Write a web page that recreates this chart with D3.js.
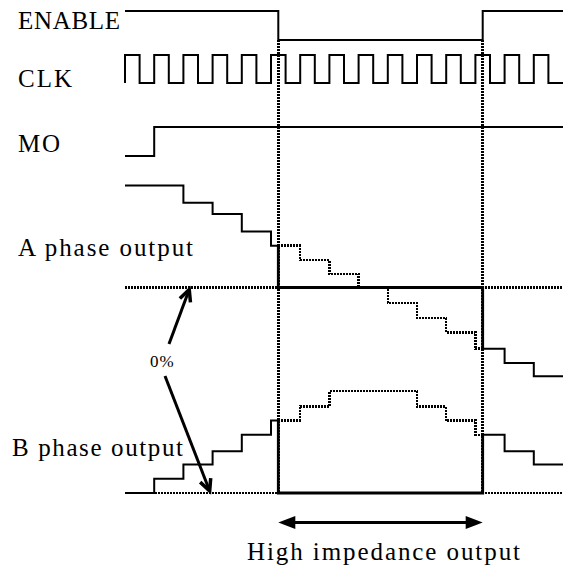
<!DOCTYPE html>
<html>
<head>
<meta charset="utf-8">
<script src="https://cdn.jsdelivr.net/npm/d3@7.9.0/dist/d3.min.js"></script>
<style>
  body { margin: 0; background: #fff; }
  text { font-family: "Liberation Serif", "Times New Roman", serif; fill: #000; }
</style>
</head>
<body>
<svg id="chart" width="563" height="572"></svg>
<script>
// clock periods (index of each step), and the level of each phase per period, in %
const steps = [0, 1, 2, 3, 4, 5, 6, 7, 8, 9, 10, 11, 12, 13, 14];
const aPhase = [100, 100, 83, 72, 55, 41, 27, 13, 0, -15, -30, -44, -60, -74, -87];
const bPhase = [0, 14, 28, 41, 57, 71, 85, 100, 100, 100, 85, 71, 57, 41, 28];

// digital signals: change times (in clock periods) and levels
const clkRise = [0, 1, 2, 3, 4, 5, 6, 7, 8, 9, 10, 11, 12, 13, 14];
const clkDuty = 0.5;
const enableTimes = [0, 5.25, 12.25];
const enableLevels = [1, 0, 1];
const moTimes = [0, 1];
const moLevels = [0, 1];
const hiZ = [5.25, 12.25];

const labels = ['ENABLE', 'CLK', 'MO', 'A phase output', 'B phase output'];
const zeroLabel = '0%';
const hiZLabel = 'High impedance output';

const svg = d3.select('#chart');
const x = d3.scaleLinear().domain([0, 15]).range([125, 563]);

const yEnable = d3.scaleLinear().domain([0, 1]).range([40, 11]);
const yClk = d3.scaleLinear().domain([0, 1]).range([83, 55]);
const yMo = d3.scaleLinear().domain([0, 1]).range([156, 127]);
const yA = d3.scaleLinear().domain([0, 100]).range([287.5, 185.5]);
const yB = d3.scaleLinear().domain([0, 100]).range([493, 391]);

const dots = '2,1';

function stepLine(y) {
  return d3.line().x(d => x(d[0])).y(d => y(d[1])).curve(d3.curveStepAfter);
}

function drawPath(pts, y, opts) {
  svg.append('path')
    .attr('d', stepLine(y)(pts))
    .attr('fill', 'none')
    .attr('stroke', '#000')
    .attr('stroke-width', opts.w || 2)
    .attr('stroke-dasharray', opts.dash || null)
    .attr('shape-rendering', opts.dash ? 'crispEdges' : null);
}

// zero lines (dotted)
[yA, yB].forEach(y => {
  svg.append('line')
    .attr('x1', x(0)).attr('x2', x(15))
    .attr('y1', y(0)).attr('y2', y(0))
    .attr('stroke', '#000').attr('stroke-width', 2.5)
    .attr('stroke-dasharray', dots)
    .attr('shape-rendering', 'crispEdges');
});

// high impedance boundaries
hiZ.forEach(t => {
  svg.append('line')
    .attr('x1', x(t)).attr('x2', x(t))
    .attr('y1', yEnable(0)).attr('y2', yB(0))
    .attr('stroke', '#000').attr('stroke-width', 2.5)
    .attr('stroke-dasharray', dots)
    .attr('shape-rendering', 'crispEdges');
});

// ENABLE
let enPts = enableTimes.map((t, i) => [t, enableLevels[i]]);
enPts.push([15, enableLevels[enableLevels.length - 1]]);
drawPath(enPts, yEnable, {});

// CLK
let clkPts = [[0, 0]];
clkRise.forEach(t => { clkPts.push([t, 1]); clkPts.push([t + clkDuty, 0]); });
clkPts.push([15, 0]);
drawPath(clkPts, yClk, {});

// MO
let moPts = moTimes.map((t, i) => [t, moLevels[i]]);
moPts.push([15, moLevels[moLevels.length - 1]]);
drawPath(moPts, yMo, {});

// phase outputs
function drawPhase(vals, y) {
  const [off, on] = hiZ;
  const lv = t => vals[Math.min(Math.floor(t), vals.length - 1)];
  const before = steps.filter(k => k < off).map(k => [k, vals[k]]);
  const after = steps.filter(k => k > on).map(k => [k, vals[k]]);
  const mid = steps.filter(k => k > off && k < on).map(k => [k, vals[k]]);
  // the level the driver would give while outputs are off
  drawPath([[off, lv(off)], ...mid, [on, lv(on)]], y, { dash: dots, w: 2.5 });
  drawPath([...before, [off, lv(off)]], y, {});
  drawPath([[off, lv(off)], [off, 0], [on, 0], [on, lv(on)]], y, { w: 2.8 });
  drawPath([[on, lv(on)], ...after, [15, vals[vals.length - 1]]], y, {});
}
drawPhase(aPhase, yA);
drawPhase(bPhase, yB);

// labels
const labelPos = [
  { x: 18, y: 29, w: 102 },
  { x: 18, y: 87, w: 54 },
  { x: 18, y: 152, w: 42 },
  { x: 18, y: 256, w: 175 },
  { x: 12, y: 456, w: 171 }
];
labels.forEach((s, i) => {
  svg.append('text')
    .attr('x', labelPos[i].x).attr('y', labelPos[i].y)
    .attr('font-size', 25)
    .attr('textLength', labelPos[i].w)
    .attr('lengthAdjust', 'spacing')
    .text(s);
});

// 0% arrows
function arrow(x1, y1, x2, y2) {
  const a = Math.atan2(y2 - y1, x2 - x1);
  const L = 13, s = 0.45;
  svg.append('line')
    .attr('x1', x1).attr('y1', y1).attr('x2', x2).attr('y2', y2)
    .attr('stroke', '#000').attr('stroke-width', 3);
  const p = [
    [x2 - L * Math.cos(a - s), y2 - L * Math.sin(a - s)],
    [x2, y2],
    [x2 - L * Math.cos(a + s), y2 - L * Math.sin(a + s)]
  ];
  svg.append('path')
    .attr('d', d3.line()(p))
    .attr('fill', 'none').attr('stroke', '#000')
    .attr('stroke-width', 3.5).attr('stroke-linejoin', 'miter');
}
arrow(169, 344, x(2.2), yA(0) + 2);
arrow(165, 376, x(2.9), yB(0) - 2);

svg.append('text')
  .attr('x', 150).attr('y', 367)
  .attr('font-size', 17)
  .attr('letter-spacing', 1)
  .text(zeroLabel);

// high impedance span
const ya = 522.5;
svg.append('line')
  .attr('x1', x(hiZ[0]) + 10).attr('x2', x(hiZ[1]) - 10)
  .attr('y1', ya).attr('y2', ya)
  .attr('stroke', '#000').attr('stroke-width', 3);
[[hiZ[0], 1], [hiZ[1], -1]].forEach(([t, dir]) => {
  const px = x(t);
  svg.append('path')
    .attr('d', `M${px},${ya} L${px + dir * 17},${ya - 6.5} L${px + dir * 17},${ya + 6.5} Z`)
    .attr('fill', '#000');
});

svg.append('text')
  .attr('x', 247).attr('y', 560)
  .attr('font-size', 25)
  .attr('textLength', 273)
  .attr('lengthAdjust', 'spacing')
  .text(hiZLabel);
</script>
</body>
</html>
